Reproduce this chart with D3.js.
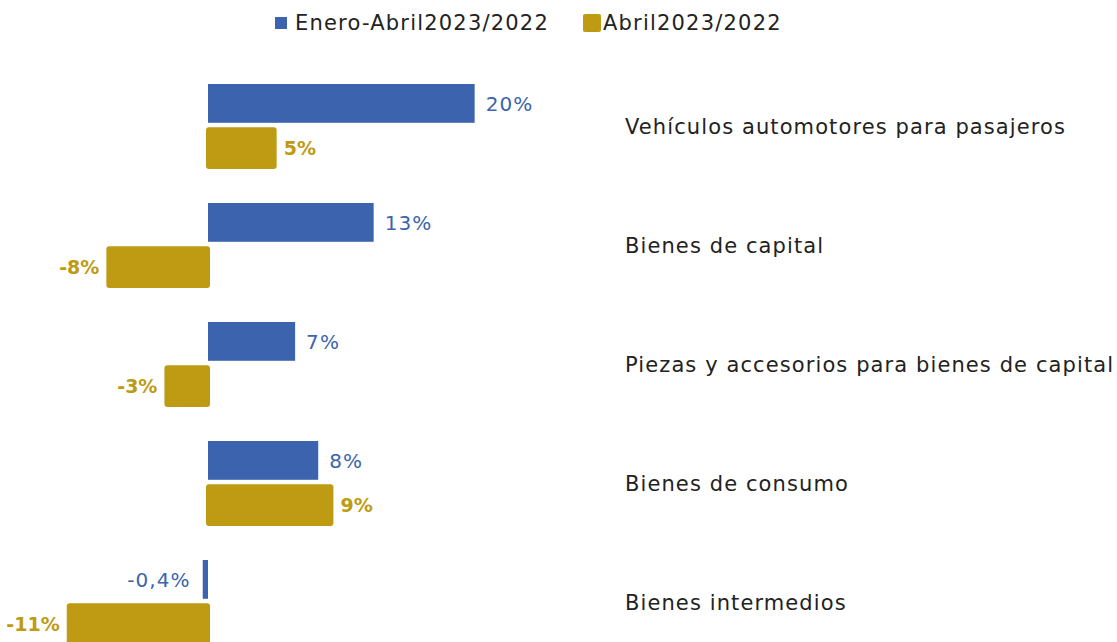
<!DOCTYPE html>
<html>
<head>
<meta charset="utf-8">
<script src="https://cdn.jsdelivr.net/npm/d3@7"></script>
<style>
  body { margin: 0; background: #fff; }
  text { font-family: "DejaVu Sans", sans-serif; }
</style>
</head>
<body>
<svg id="chart" width="1117" height="642"></svg>
<script>
// data
const categories = [
  "Vehículos automotores para pasajeros",
  "Bienes de capital",
  "Piezas y accesorios para bienes de capital",
  "Bienes de consumo",
  "Bienes intermedios"
];
const seriesNames = ["Enero-Abril2023/2022", "Abril2023/2022"];
const eneroAbril = [20.2, 12.55, 6.6, 8.35, -0.4];
const abril = [5.05, -7.55, -3.15, 9.35, -10.55];
const eneroAbrilLabels = ["20%", "13%", "7%", "8%", "-0,4%"];
const abrilLabels = ["5%", "-8%", "-3%", "9%", "-11%"];

const blue = "#3c64ae";
const gold = "#be9b12";

const svg = d3.select("#chart");

// x: zero at 208, ~13.2px per percent
let x = d3.scaleLinear().domain([-15, 25]).range([208 - 15 * 13.2, 208 + 25 * 13.2]);
let y = d3.scalePoint().domain(categories).range([125, 601]);
let inner = d3.scaleBand().domain(seriesNames).range([-41, 43]).paddingInner(0.1);

let rows = categories.map((c, i) => ({
  cat: c,
  a: eneroAbril[i], b: abril[i],
  la: eneroAbrilLabels[i], lb: abrilLabels[i]
}));

let g = svg.selectAll("g.row").data(rows).join("g")
  .attr("class", "row")
  .attr("transform", d => `translate(0, ${y(d.cat)})`);

// blue bars
g.append("rect")
  .attr("x", d => x(Math.min(0, d.a)))
  .attr("width", d => Math.abs(x(d.a) - x(0)))
  .attr("y", inner(seriesNames[0]))
  .attr("height", inner.bandwidth() - 1)
  .attr("fill", blue);

// gold bars (slightly rounded, a bit wider)
g.append("rect")
  .attr("x", d => x(Math.min(0, d.b)) - 2)
  .attr("width", d => Math.abs(x(d.b) - x(0)) + 4)
  .attr("y", inner(seriesNames[1]) - 1)
  .attr("height", inner.bandwidth() + 2)
  .attr("rx", 3)
  .attr("fill", gold);

// value labels
g.append("text")
  .attr("x", d => d.a >= 0 ? x(d.a) + 11 : x(d.a) - 12)
  .attr("y", inner(seriesNames[0]) + inner.bandwidth() / 2)
  .attr("dy", "0.35em")
  .attr("text-anchor", d => d.a >= 0 ? "start" : "end")
  .attr("font-size", 20)
  .attr("letter-spacing", 1.1)
  .attr("fill", blue)
  .text(d => d.la);

g.append("text")
  .attr("x", d => d.b >= 0 ? x(d.b) + 9 : x(d.b) - 9)
  .attr("y", inner(seriesNames[1]) + inner.bandwidth() / 2)
  .attr("dy", "0.35em")
  .attr("text-anchor", d => d.b >= 0 ? "start" : "end")
  .attr("font-size", 19)
  .attr("font-weight", "bold")
  .attr("fill", gold)
  .text(d => d.lb);

// category labels
g.append("text")
  .attr("x", 625)
  .attr("y", 2)
  .attr("dy", "0.35em")
  .attr("font-size", 21)
  .attr("letter-spacing", 1.1)
  .attr("fill", "#222")
  .text(d => d.cat);

// legend
let legendX = [275, 583];
let legend = svg.selectAll("g.legend").data(seriesNames).join("g")
  .attr("class", "legend")
  .attr("transform", (d, i) => `translate(${legendX[i]}, 23)`);
legend.append("rect")
  .attr("y", (d, i) => i ? -9 : -6)
  .attr("width", (d, i) => i ? 18 : 12)
  .attr("height", (d, i) => i ? 18 : 12)
  .attr("rx", (d, i) => i ? 2 : 0)
  .attr("fill", (d, i) => i ? gold : blue);
legend.append("text")
  .attr("x", 20)
  .attr("dy", "0.35em")
  .attr("font-size", 21)
  .attr("letter-spacing", 1.2)
  .attr("fill", "#222")
  .text(d => d);
</script>
</body>
</html>
